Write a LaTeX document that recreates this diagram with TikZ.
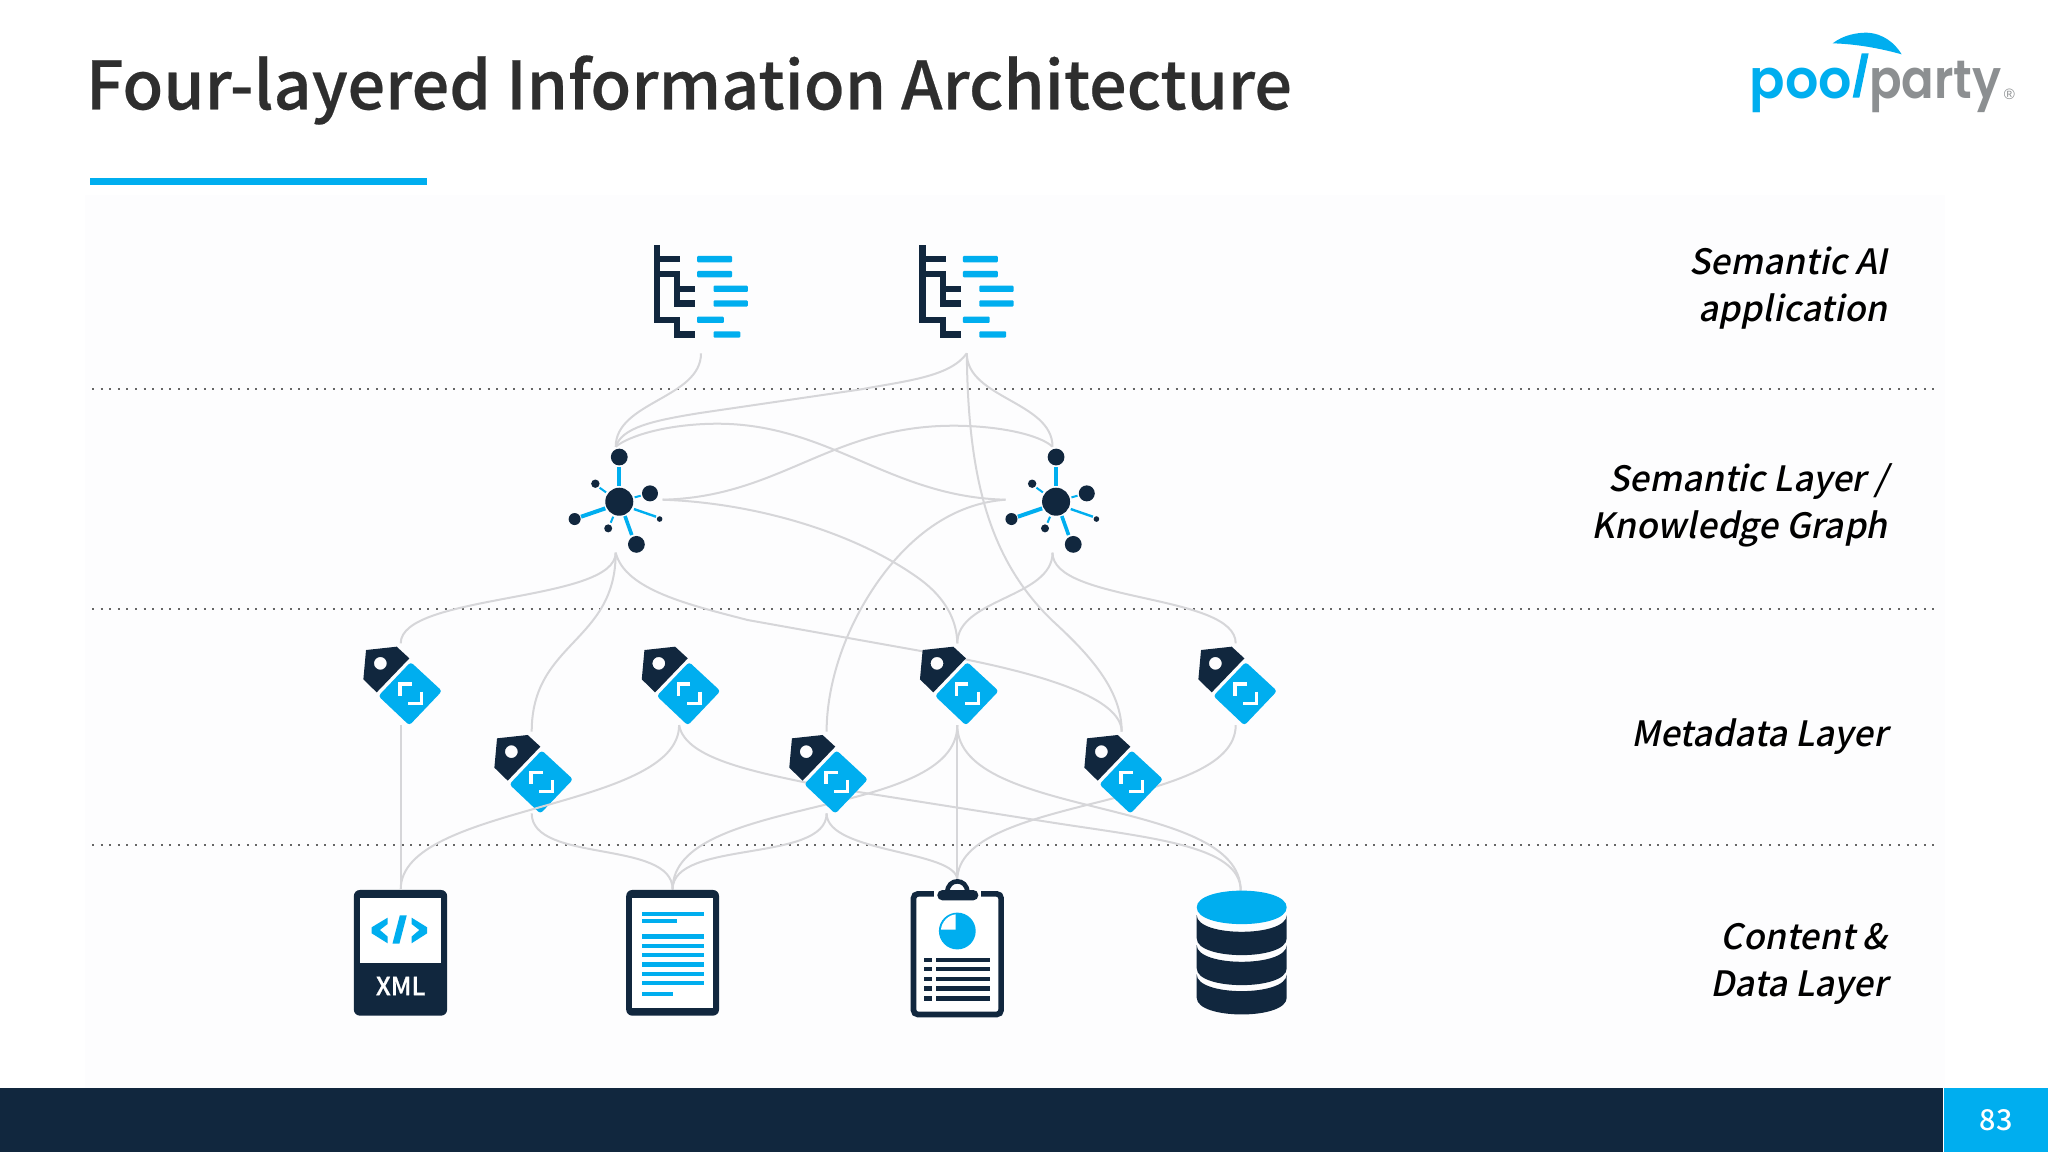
\documentclass[tikz,border=0pt]{standalone}
\usepackage{fontspec}
\setmainfont{Noto Sans CJK JP}
\newfontfamily\titlefont[FakeBold=0.35]{Noto Sans CJK JP Medium}
\newfontfamily\mediumfont{Noto Sans CJK JP Medium}
\newfontfamily\boldishfont[FakeBold=0.6]{Noto Sans CJK JP Medium}
\newfontfamily\slantfont[FakeSlant=0.2]{Noto Sans CJK JP Medium}
\newfontfamily\logofonta[FakeStretch=0.97]{Poppins SemiBold}
\newfontfamily\logofontb[FakeStretch=0.89]{Poppins SemiBold}
\newfontfamily\regfont{Liberation Sans}
\definecolor{navy}{HTML}{11273E}
\definecolor{sky}{HTML}{00AEEF}
\definecolor{linegrey}{HTML}{D6D6D9}
\definecolor{logogrey}{HTML}{8C8F91}
\definecolor{panel}{HTML}{FDFDFE}
\tikzset{
  anchorbox/.style={inner sep=0pt,outer sep=0pt,minimum width=#1},
  edge/.style={draw=linegrey,line width=1pt},
  layerline/.style={draw=black!60,line width=0.95pt,dash pattern=on 0.95pt off 3.35pt},
  layerlabel/.style={anchor=base east,align=right,inner sep=0pt,font=\fontsize{17.45}{23.4}\selectfont\slantfont,text=black},
  zoomxy/.style 2 args={x=0.5pt/#1,y=-0.5pt/#2},
}
\newcommand{\appicon}[1]{%
  \begin{scope}[shift={(#1.south)},zoomxy={2.8}{3},shift={(-283,-400)}]
    \draw[navy,line width=3.2pt,miter limit=10]
      (159,76) -- (159,299.5) -- (216,299.5) -- (216,343.5) -- (267,343.5)
      (159,117.5) -- (225,117.5)
      (159,162.5) -- (216,162.5) -- (216,250.5) -- (267,250.5)
      (216,206.5) -- (267,206.5);
    \foreach \xa/\xb/\yy in {272/370/108,272/370/153,318/414/197,318/414/241,272/347/290,318/393/334}
      \fill[sky,rounded corners=0.5pt] (\xa,\yy) rectangle (\xb,\yy+19);
  \end{scope}}
\newcommand{\kgicon}[1]{%
  \begin{scope}[shift={(#1.north)},zoomxy={2.8}{3},shift={(-1267,-680)}]
    \foreach \xa/\ya/\xb/\yb/\w in {1277/742/1277/797/1.8,1320/832/1337/827/1,1222/803/1240/817/1,1170/890/1238/865/2,1318/867/1380/890/1.2,1260/890/1253/908/1,1293/888/1312/945/1.8}
      \draw[sky,line width=\w pt] (\xa,\ya) -- (\xb,\yb);
    \fill[navy] (1277,845) circle[radius=7pt];
    \foreach \xa/\ya/\r in {1277/711/4.2,1363/820/4,1210/791/2.1,1152/897/3,1390/897/1.4,1246/925/2,1325/973/4.2}
      \fill[navy] (\xa,\ya) circle[radius=\r pt];
  \end{scope}}
\newcommand{\tagicon}[1]{%
  \begin{scope}[shift={(#1.north)},zoomxy={3}{3},shift={(-232,-70)}]
    \fill[navy,even odd rule] (128,90) -- (220,80) -- (258,115) -- (160,217) -- (120,178) -- cycle
      (171,130) circle[radius=3.2pt];
    \fill[sky,rounded corners=1.5pt] (262,126) -- (356,213) -- (258,316) -- (165,228) -- cycle;
    \draw[white,line width=1.7pt] (265,192) -- (230,192) -- (230,228)
      (295,215) -- (295,250) -- (255,250);
  \end{scope}}
\newcommand{\xmlicon}[1]{%
  \begin{scope}[shift={(#1.north)},zoomxy={2.306}{3},shift={(-140,-808)}]
    \fill[navy,rounded corners=3pt] (32,810) rectangle (247,1187);
    \fill[white] (46,834) rectangle (234,1028);
    \fill[sky] (110,893) -- (110,912) -- (92,930) -- (110,950) -- (110,970) -- (73,940) -- (73,922) -- cycle;
    \fill[sky] (165,893) -- (165,912) -- (183,930) -- (165,950) -- (165,970) -- (201,940) -- (201,922) -- cycle;
    \fill[sky] (138,886) -- (154,886) -- (137,971) -- (121,971) -- cycle;
  \end{scope}}
\newcommand{\docicon}[1]{%
  \begin{scope}[shift={(#1.north)},zoomxy={2.306}{3},shift={(-767,-808)}]
    \fill[navy,rounded corners=3pt] (660,810) rectangle (874,1187);
    \fill[white] (673,834) rectangle (861,1163);
    \foreach \xb/\yy in {839/883,778/903,839/950,839/978,839/1005,839/1034,839/1062,839/1090,768/1122}
      \fill[sky] (696,\yy-6.5) rectangle (\xb,\yy+6.5);
  \end{scope}}
\newcommand{\clipicon}[1]{%
  \begin{scope}[shift={(#1.north)},zoomxy={3}{3},shift={(-232,-775)}]
    \draw[navy,line width=2.83pt,rounded corners=2.2pt,fill=white] (100.5,816.5) rectangle (363.5,1178.5);
    \fill[white] (163,804) rectangle (303,830);
    \draw[navy,line width=2.3pt] (202,812) .. controls (202,768) and (262,768) .. (262,812);
    \fill[navy,rounded corners=2.5pt] (172,805) rectangle (295,836);
    \fill[sky] (232,928) circle[radius=9.2pt];
    \fill[white] (227,878) .. controls (205,880) and (185,900) .. (183,924) -- (227,924) -- cycle;
    \foreach \yy in {1015,1042,1071,1100,1130}{
      \fill[navy] (132,\yy-6.5) rectangle (157,\yy+6.5);
      \fill[navy] (168,\yy-6.5) rectangle (331,\yy+6.5);
    }
  \end{scope}}
\newcommand{\dbicon}[1]{%
  \begin{scope}[shift={(#1.north)},zoomxy={3}{3},shift={(-1082,-812)}]
    \foreach \st/\sb in {885/955,975/1045,1063/1133}
      \fill[navy] (950,\st) .. controls (950,\st+67) and (1220,\st+67) .. (1220,\st) -- (1220,\sb)
        .. controls (1220,\sb+67) and (950,\sb+67) .. (950,\sb) -- cycle;
    \fill[sky] (950,862) .. controls (950,795) and (1220,795) .. (1220,862)
      .. controls (1220,929) and (950,929) .. (950,862) -- cycle;
  \end{scope}}
\begin{document}
\begin{tikzpicture}[x=0.5pt,y=-0.5pt]
\useasboundingbox (0,0) rectangle (2048,1152);
\fill[white] (0,0) rectangle (2048,1152);
\fill[panel] (85,195) rectangle (1945,1088);
% footer
\fill[navy] (0,1088) rectangle (1943,1152);
\node[fill=sky,minimum width=52.5pt,minimum height=32pt,inner sep=0pt,outer sep=0pt,anchor=north west,text=white,font=\fontsize{14.4}{14}\selectfont\mediumfont] (pagebox) at (1943.5,1088) {83};
% title
\node[anchor=base west,inner sep=0pt,text=black!82,font=\fontsize{33.25}{33}\selectfont\titlefont] (title) at (85.5,109.3) {Four-layered Information Architecture};
\fill[sky] (90,178.3) rectangle (427,185);
% logo
\begin{scope}[shift={(1720,20)},x=0.5pt/3,y=-0.5pt/3]
  \fill[sky] (338,70) .. controls (370,45) and (410,38) .. (440,38) .. controls (490,40) and (525,70) .. (545,103) .. controls (480,85) and (410,72) .. cycle;
  \fill[sky] (425,100) -- (446,100) -- (418,233) -- (398,233) -- cycle;
  \node[anchor=base west,inner sep=0pt,text=sky,font=\fontsize{27}{27}\logofonta] (logopool) at (88,234) {poo};
  \node[anchor=base west,inner sep=0pt,text=logogrey,font=\fontsize{27}{27}\logofontb] (logoparty) at (446,234) {party};
  \node[inner sep=0pt,text=logogrey,font=\fontsize{7.5}{7.5}\regfont] (logoreg) at (868,222) {®};
\end{scope}
% layer separators
\coordinate (sep1a) at (92,389); \coordinate (sep1b) at (1938,389);
\coordinate (sep2a) at (92,608.6); \coordinate (sep2b) at (1938,608.6);
\coordinate (sep3a) at (92,845); \coordinate (sep3b) at (1938,845);
\draw[layerline] (sep1a) -- (sep1b);
\draw[layerline] (sep2a) -- (sep2b);
\draw[layerline] (sep3a) -- (sep3b);
% layer labels
\node[layerlabel] (lab1a) at (1888,274.3) {Semantic AI};
\node[layerlabel] (lab1b) at (1888,321) {application};
\node[layerlabel] (lab2a) at (1888,491) {Semantic Layer /};
\node[layerlabel] (lab2b) at (1888,538.5) {Knowledge Graph};
\node[layerlabel] (lab3) at (1888,746) {Metadata Layer};
\node[layerlabel] (lab4a) at (1888,949) {Content \&};
\node[layerlabel] (lab4b) at (1888,996) {Data Layer};
% connection frames of the icons
\node[anchorbox=47pt,minimum height=54pt] (app1) at (701,299.3) {};
\node[anchorbox=47pt,minimum height=54pt] (app2) at (966.8,299.3) {};
\node[anchorbox=47pt,minimum height=53pt] (kg1) at (615.7,499.7) {};
\node[anchorbox=47pt,minimum height=53pt] (kg2) at (1052.5,499.7) {};
\node[anchorbox=30pt,minimum height=40.85pt] (tag1) at (400.7,684.2) {};
\node[anchorbox=30pt,minimum height=40.85pt] (tag2) at (531.7,772.5) {};
\node[anchorbox=30pt,minimum height=40.85pt] (tag3) at (679.1,684.2) {};
\node[anchorbox=30pt,minimum height=40.85pt] (tag4) at (826.6,772.5) {};
\node[anchorbox=30pt,minimum height=40.85pt] (tag5) at (957.3,684.2) {};
\node[anchorbox=30pt,minimum height=40.85pt] (tag6) at (1121.7,772.5) {};
\node[anchorbox=30pt,minimum height=40.85pt] (tag7) at (1235.7,684.2) {};
\node[anchorbox=46pt,minimum height=63pt] (xml) at (400.7,952.3) {};
\node[anchorbox=46pt,minimum height=63pt] (doc) at (672.6,952.3) {};
\node[anchorbox=46pt,minimum height=68pt] (clip) at (957.3,948) {};
\node[anchorbox=45pt,minimum height=62pt] (db) at (1240.7,952.7) {};
% connectors: application to semantic layer
\draw[edge] (app1.south) .. controls +(0,45) and +(0,-45) .. (kg1.north);
\draw[edge] (app2.south) .. controls (950,377) and (905,381) .. (860,389.5) -- (700,413) .. controls (650,421) and (622,428) .. (kg1.north);
\draw[edge] (app2.south) .. controls +(0,45) and +(0,-45) .. (kg2.north);
\draw[edge] (app2.south) .. controls (968,480) and (990,560) .. (1051.7,620) .. controls (1090,655) and (1121.7,690) .. (tag6.north);
% connectors: inside semantic layer
\draw[edge] (kg1.east) .. controls (780,497) and (830,426) .. (953,425.7) .. controls (1000,425.7) and (1040,435) .. (kg2.north);
\draw[edge] (kg2.west) .. controls (890,497) and (830,424) .. (718,423.7) .. controls (670,423.7) and (630,435) .. (kg1.north);
% connectors: semantic layer to metadata
\draw[edge] (kg1.east) .. controls (760,503) and (860,535) .. (921,580) .. controls (945,598) and (957,620) .. (tag5.north);
\draw[edge] (kg2.west) .. controls (930,505) and (880,570) .. (855,620) .. controls (835,660) and (826.6,700) .. (tag4.north);
\draw[edge] (kg1.south) .. controls +(0,50) and +(0,-50) .. (tag1.north);
\draw[edge] (kg1.south) .. controls +(0,90) and +(0,-90) .. (tag2.north);
\draw[edge] (kg1.south) .. controls (625,590) and (690,605) .. (747.6,620) -- (921,651) .. controls (1000,665) and (1121.7,690) .. (tag6.north);
\draw[edge] (kg2.south) .. controls +(0,45) and +(0,-45) .. (tag5.north);
\draw[edge] (kg2.south) .. controls +(0,50) and +(0,-50) .. (tag7.north);
% connectors: metadata to content
\draw[edge] (tag1.south) -- (xml.north);
\draw[edge] (tag2.south) .. controls +(0,50) and +(0,-50) .. (doc.north);
\draw[edge] (tag3.south) .. controls (685,760) and (760,773) .. (830,787.5) -- (1046.7,821.7) .. controls (1150,838) and (1240.7,845) .. (db.north);
\draw[edge] (tag4.south) .. controls +(0,50) and +(0,-50) .. (doc.north);
\draw[edge] (tag4.south) .. controls +(0,40) and +(0,-30) .. (clip.north);
\draw[edge] (tag5.south) .. controls +(0,95) and +(0,-95) .. (doc.north);
\draw[edge] (tag5.south) -- (clip.north);
\draw[edge] (tag5.south) .. controls +(0,95) and +(0,-95) .. (db.north);
\draw[edge] (tag7.south) .. controls +(0,85) and +(0,-85) .. (clip.north);
% icons
\appicon{app1}
\appicon{app2}
\kgicon{kg1}
\kgicon{kg2}
\foreach \t in {tag1,tag2,tag3,tag4,tag5,tag6,tag7}{\tagicon{\t}}
\xmlicon{xml}
\docicon{doc}
\clipicon{clip}
\dbicon{db}
\node[inner sep=0pt,text=white,font=\fontsize{12.5}{12.5}\selectfont\boldishfont] (xmllabel) at (400.7,986) {XML};
% this connector runs over the tag it crosses
\draw[edge] (tag3.south) .. controls +(0,85) and +(0,-85) .. (xml.north);
\end{tikzpicture}
\end{document}
